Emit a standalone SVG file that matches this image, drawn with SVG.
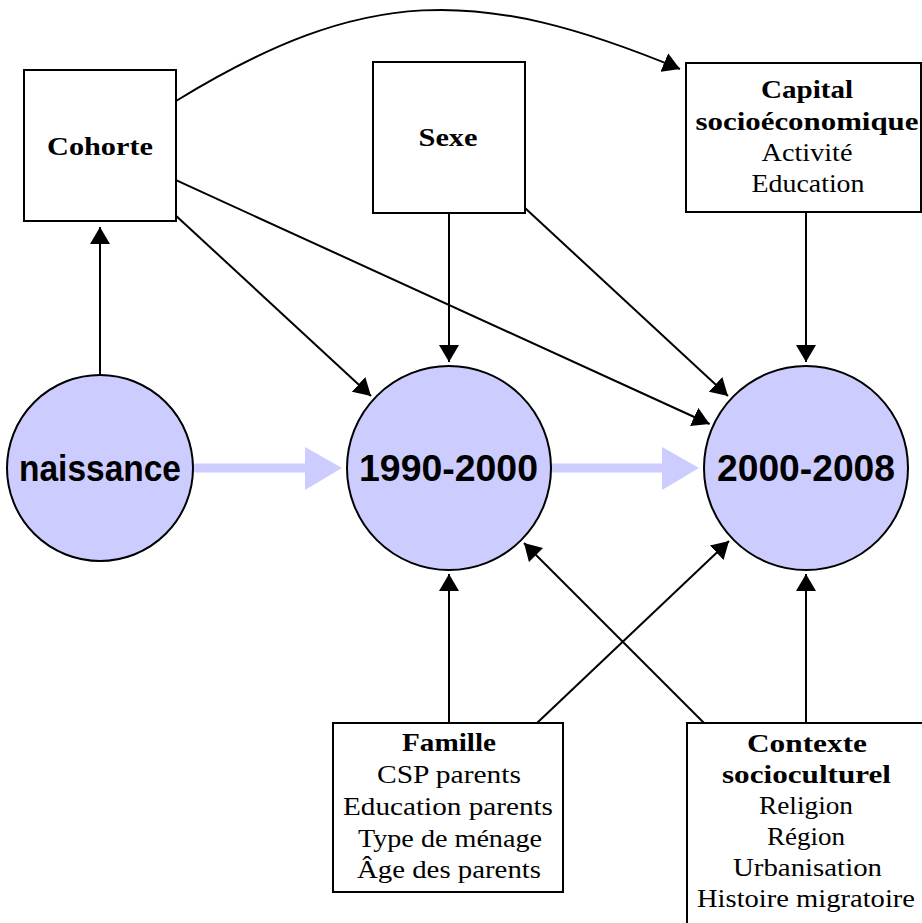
<svg xmlns="http://www.w3.org/2000/svg" width="922" height="923" viewBox="0 0 922 923">
  <style>
    .box { fill: #ffffff; stroke: #000000; stroke-width: 2; }
    .period { fill: #ccccff; stroke: #000000; stroke-width: 2; }
    .lbl { font-family: "Liberation Serif", "Times New Roman", serif; font-size: 25px; fill: #000000; text-anchor: middle; }
    .b { font-weight: bold; }
    .big { font-family: "Liberation Sans", Arial, sans-serif; font-size: 37px; font-weight: bold; fill: #000000; text-anchor: middle; }
    .edge { fill: none; stroke: #000000; stroke-width: 2; marker-end: url(#tip); }
    .flow { fill: none; stroke: #ccccff; stroke-width: 9; }
    .flowhead { fill: #ccccff; stroke: none; }
  </style>
  <defs>
    <marker id="tip" markerUnits="userSpaceOnUse" viewBox="0 0 17 20" markerWidth="17" markerHeight="20" refX="17" refY="10" orient="auto">
      <path d="M0,0 L17,10 L0,20 Z" fill="#000000"/>
    </marker>
  </defs>

  <!-- time flow between the three periods -->
  <g id="flow">
    <line class="flow" x1="193" y1="468" x2="306" y2="468"/>
    <polygon class="flowhead" points="305,447 342,468 305,490"/>
    <line class="flow" x1="551" y1="468" x2="663" y2="468"/>
    <polygon class="flowhead" points="662,447 699,468 662,490"/>
  </g>

  <!-- influence connectors -->
  <g id="connectors">
    <line class="edge" x1="100" y1="375" x2="100" y2="227"/>
    <line class="edge" x1="176" y1="215.7" x2="371" y2="396"/>
    <line class="edge" x1="176" y1="180.2" x2="709.6" y2="424"/>
    <path class="edge" d="M176,101 C364,-14 477,-15 680,69"/>
    <line class="edge" x1="449" y1="213" x2="449" y2="362"/>
    <line class="edge" x1="525" y1="208" x2="728" y2="396"/>
    <line class="edge" x1="806" y1="212" x2="806" y2="362"/>
    <line class="edge" x1="449" y1="723" x2="449" y2="574"/>
    <line class="edge" x1="537" y1="723" x2="729" y2="541"/>
    <line class="edge" x1="704" y1="723" x2="524" y2="543"/>
    <line class="edge" x1="806" y1="723" x2="806" y2="574"/>
  </g>

  <g id="naissance">
    <circle class="period" cx="100" cy="468" r="93"/>
    <text class="big" x="100" y="481" textLength="162" lengthAdjust="spacingAndGlyphs">naissance</text>
  </g>

  <g id="p1990">
    <circle class="period" cx="449" cy="468" r="102"/>
    <text class="big" x="448.5" y="481" textLength="179" lengthAdjust="spacingAndGlyphs">1990-2000</text>
  </g>

  <g id="p2000">
    <circle class="period" cx="806" cy="468" r="102"/>
    <text class="big" x="806" y="481" textLength="178" lengthAdjust="spacingAndGlyphs">2000-2008</text>
  </g>

  <g id="cohorte">
    <rect class="box" x="24" y="70" width="152" height="151"/>
    <text class="lbl b" x="100" y="155" textLength="106" lengthAdjust="spacingAndGlyphs">Cohorte</text>
  </g>

  <g id="sexe">
    <rect class="box" x="373" y="62" width="152" height="151"/>
    <text class="lbl b" x="448" y="146" textLength="59" lengthAdjust="spacingAndGlyphs">Sexe</text>
  </g>

  <g id="capital">
    <rect class="box" x="686" y="63" width="235" height="149"/>
    <text class="lbl b" x="807" y="98" textLength="92" lengthAdjust="spacingAndGlyphs">Capital</text>
    <text class="lbl b" x="807" y="130" textLength="223" lengthAdjust="spacingAndGlyphs">socioéconomique</text>
    <text class="lbl" x="807" y="161" textLength="91" lengthAdjust="spacingAndGlyphs">Activité</text>
    <text class="lbl" x="808" y="192" textLength="113" lengthAdjust="spacingAndGlyphs">Education</text>
  </g>

  <g id="famille">
    <rect class="box" x="333" y="723" width="230" height="169"/>
    <text class="lbl b" x="449" y="751" textLength="94" lengthAdjust="spacingAndGlyphs">Famille</text>
    <text class="lbl" x="449" y="783" textLength="144" lengthAdjust="spacingAndGlyphs">CSP parents</text>
    <text class="lbl" x="448" y="815" textLength="210" lengthAdjust="spacingAndGlyphs">Education parents</text>
    <text class="lbl" x="450" y="847" textLength="184" lengthAdjust="spacingAndGlyphs">Type de ménage</text>
    <text class="lbl" x="449" y="878" textLength="184" lengthAdjust="spacingAndGlyphs">Âge des parents</text>
  </g>

  <g id="contexte">
    <rect class="box" x="687" y="723" width="240" height="206"/>
    <text class="lbl b" x="807" y="752" textLength="120" lengthAdjust="spacingAndGlyphs">Contexte</text>
    <text class="lbl b" x="806.5" y="783" textLength="169" lengthAdjust="spacingAndGlyphs">socioculturel</text>
    <text class="lbl" x="806" y="814" textLength="94" lengthAdjust="spacingAndGlyphs">Religion</text>
    <text class="lbl" x="806" y="845" textLength="78" lengthAdjust="spacingAndGlyphs">Région</text>
    <text class="lbl" x="807.5" y="876" textLength="149" lengthAdjust="spacingAndGlyphs">Urbanisation</text>
    <text class="lbl" x="806" y="907" textLength="218" lengthAdjust="spacingAndGlyphs">Histoire migratoire</text>
  </g>
</svg>
